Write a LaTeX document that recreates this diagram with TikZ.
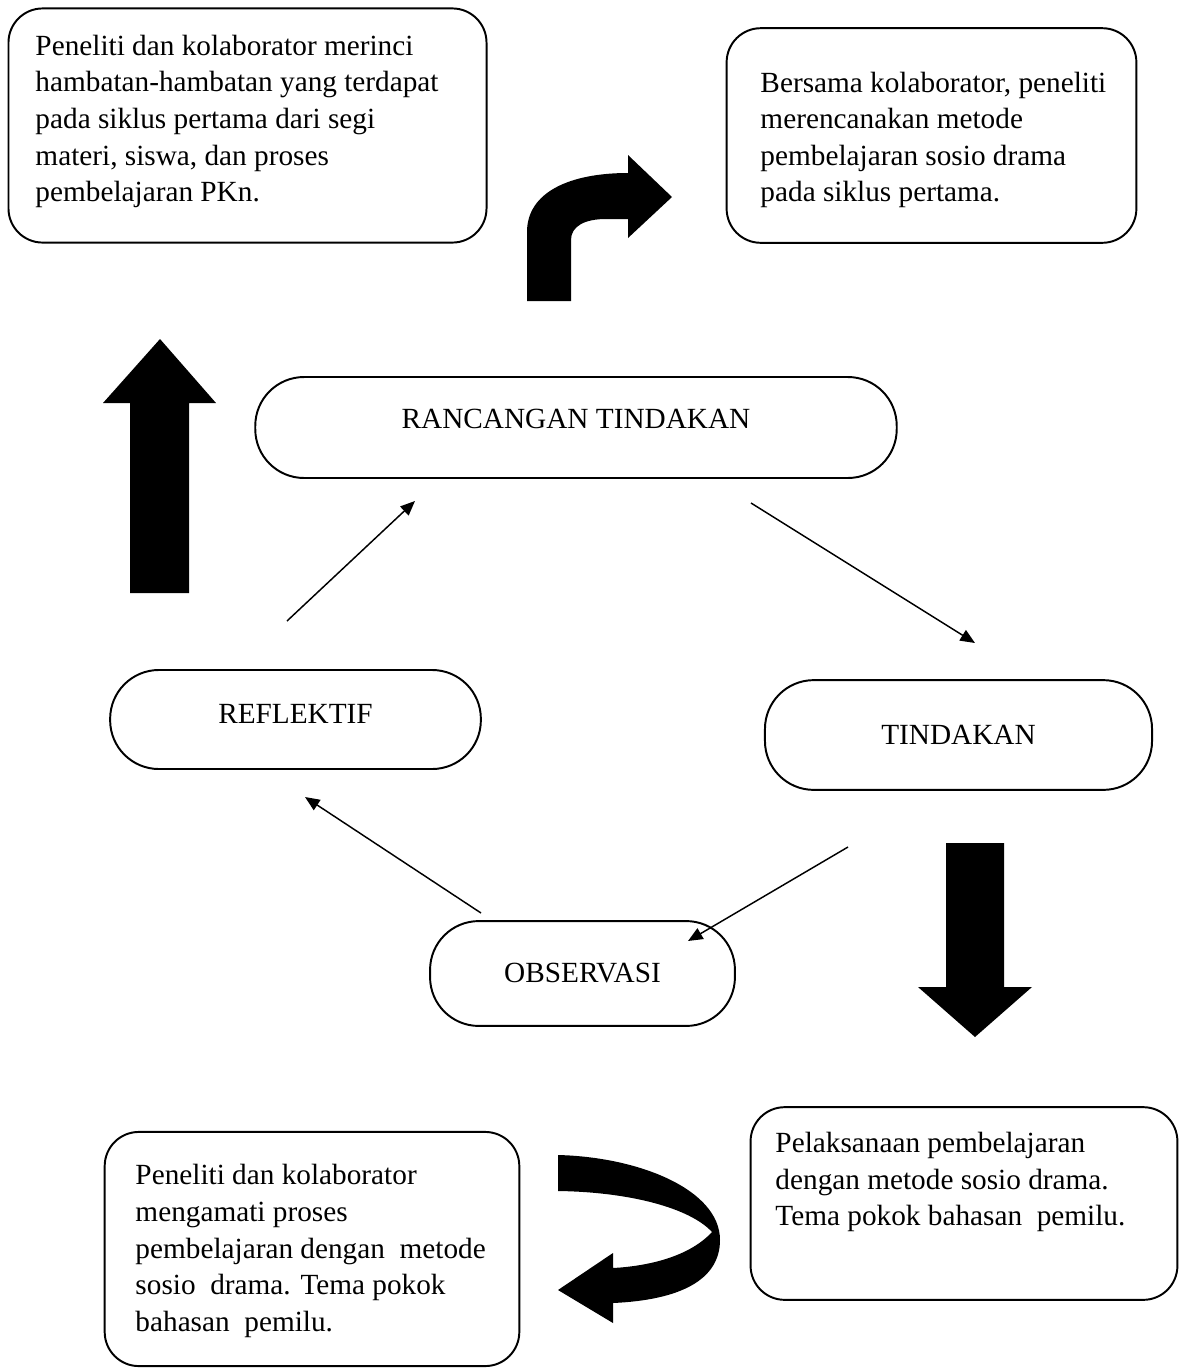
\documentclass[tikz,border=0pt]{standalone}
\usepackage{fontspec}
\setmainfont{Liberation Serif}
\usetikzlibrary{arrows.meta}

\begin{document}
\begin{tikzpicture}[x=0.41pt,y=-0.41pt,
	txt/.style={inner sep=0pt,align=left,anchor=west,font=\fontsize{12}{15}\selectfont},
	kotak/.style={draw,line width=0.8pt,rounded corners=14pt,inner sep=0pt},
	oval/.style={draw,line width=0.8pt,inner sep=0pt,font=\fontsize{12}{15}\selectfont},
	panah/.style={line width=0.6pt,-{Triangle[length=6pt,width=5pt]}}]
	\useasboundingbox (0,0) rectangle (1179,1369);

	% kotak keterangan
	\node[kotak,minimum width=196pt,minimum height=96pt] (k1) at (247.5,125.5) {};
	\node[kotak,minimum width=168pt,minimum height=88pt] (k2) at (931.5,135.5) {};
	\node[kotak,minimum width=170pt,minimum height=96pt] (k3) at (312,1249) {};
	\node[kotak,minimum width=175pt,minimum height=79pt] (k4) at (964,1203.5) {};

	\node[txt] (t1) at (35,121.5) {Peneliti dan kolaborator merinci\\hambatan-hambatan yang terdapat\\pada siklus pertama dari segi\\materi, siswa, dan proses\\pembelajaran PKn.};
	\node[txt] (t2) at (760,140) {Bersama kolaborator, peneliti\\merencanakan metode\\pembelajaran sosio drama\\pada siklus pertama.};
	\node[txt] (t3) at (135,1251) {Peneliti dan kolaborator\\mengamati proses\\pembelajaran dengan~ metode\\sosio~ drama. Tema pokok\\bahasan~ pemilu.};
	\node[txt] (t4) at (775,1182) {Pelaksanaan pembelajaran\\dengan metode sosio drama.\\Tema pokok bahasan~ pemilu.};

	% tahapan siklus
	\node[oval,rounded corners=20pt,minimum width=263pt,minimum height=41.4pt,text depth=7.4pt] (ranc) at (576,427.5) {RANCANGAN TINDAKAN};
	\node[oval,rounded corners=20pt,minimum width=158.7pt,minimum height=45pt] (tind) at (958.5,735) {TINDAKAN};
	\node[oval,rounded corners=20pt,minimum width=125pt,minimum height=43pt] (obs) at (582.5,973.5) {OBSERVASI};
	\node[oval,rounded corners=20pt,minimum width=152pt,minimum height=40.6pt,text depth=4.5pt] (refl) at (295.5,719.5) {REFLEKTIF};

	\coordinate (a1) at (751,503);
	\coordinate (a2) at (975,643);
	\coordinate (b1) at (848,847);
	\coordinate (b2) at (688,941);
	\coordinate (c1) at (481,913);
	\coordinate (c2) at (305,797);
	\coordinate (d1) at (287,621);
	\coordinate (d2) at (415,501);
	\draw[panah] (a1) -- (a2);
	\draw[panah] (b1) -- (b2);
	\draw[panah] (c1) -- (c2);
	\draw[panah] (d1) -- (d2);

	% panah besar
	\fill (527,301) -- (527,232) .. controls (527,192) and (570,173) .. (628,173) -- (628,155) -- (672,197) -- (628,238) -- (628,219) -- (606,219) .. controls (585,219) and (571,226) .. (571,240) -- (571,301) -- cycle;
	\fill (130,593) -- (130,403) -- (103,403) -- (160,339) -- (216,403) -- (189,403) -- (189,593) -- cycle;
	\fill (946,843) -- (1004,843) -- (1004,987) -- (1032,987) -- (975,1037) -- (918,987) -- (946,987) -- cycle;
	\fill (558,1155) -- (558,1191) .. controls (630,1192) and (690,1208) .. (712,1232) .. controls (690,1256) and (650,1266) .. (613,1268) -- (613,1253) -- (558,1290) -- (613,1323) -- (613,1303) .. controls (680,1300) and (720,1280) .. (720,1240) .. controls (720,1190) and (640,1157) .. (558,1155) -- cycle;
\end{tikzpicture}
\end{document}
